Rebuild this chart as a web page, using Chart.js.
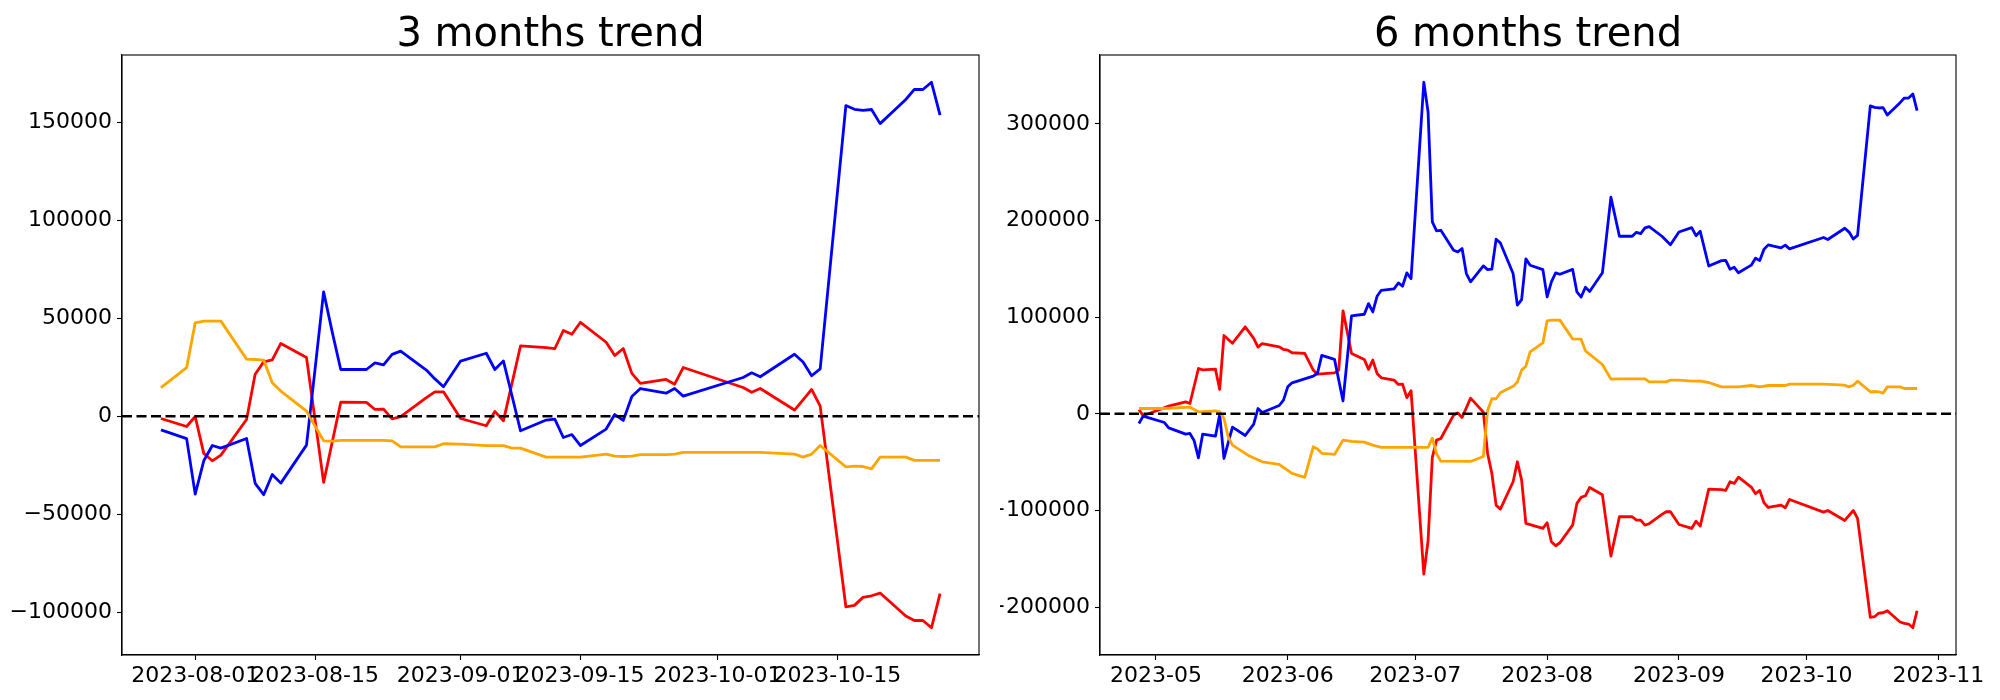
<!DOCTYPE html>
<html>
<head>
<meta charset="utf-8">
<script src="https://cdn.jsdelivr.net/npm/chart.js@4.4.0/dist/chart.umd.min.js"></script>
<style>
  html, body { margin: 0; padding: 0; background: #fff; }
  #wrap { position: relative; width: 2000px; height: 700px; }
  .box { position: absolute; top: 0; width: 1000px; height: 700px; }
</style>
</head>
<body>
<div id="wrap">
  <div class="box" style="left:0"><canvas id="chart3" width="1000" height="700"></canvas></div>
  <div class="box" style="left:1000px"><canvas id="chart6" width="1000" height="700"></canvas></div>
</div>
<script>
// ---- 3 months trend ----
const dates3 = [
  '2023-07-28', '2023-07-31',
  '2023-08-01', '2023-08-02', '2023-08-03', '2023-08-04',
  '2023-08-07', '2023-08-08', '2023-08-09', '2023-08-10', '2023-08-11',
  '2023-08-14', '2023-08-15', '2023-08-16', '2023-08-17', '2023-08-18',
  '2023-08-21', '2023-08-22', '2023-08-23', '2023-08-24', '2023-08-25',
  '2023-08-28', '2023-08-29', '2023-08-30', '2023-09-01',
  '2023-09-04', '2023-09-05', '2023-09-06', '2023-09-07', '2023-09-08',
  '2023-09-11', '2023-09-12', '2023-09-13', '2023-09-14', '2023-09-15',
  '2023-09-18', '2023-09-19', '2023-09-20', '2023-09-21', '2023-09-22',
  '2023-09-25', '2023-09-26', '2023-09-27', '2023-10-04', '2023-10-05', '2023-10-06',
  '2023-10-10', '2023-10-11', '2023-10-12', '2023-10-13',
  '2023-10-16', '2023-10-17', '2023-10-18', '2023-10-19', '2023-10-20',
  '2023-10-23', '2023-10-24', '2023-10-25', '2023-10-26', '2023-10-27'
];
const blue3 = [
  -7000, -11500,
  -39800, -22800, -15000, -16300,
  -11400, -34300, -40100, -29800, -34200,
  -14800, 24000, 63400, 43000, 23800,
  23800, 27200, 26200, 31500, 33200,
  23500, 19000, 15000, 28100,
  32100, 23800, 28200, 10400, -7500,
  -2000, -1500, -10900, -9400, -15000,
  -6600, 800, -2200, 10000, 14100,
  11700, 14100, 10200, 19700, 22100, 20100,
  31600, 27600, 20600, 24100,
  158500, 156600, 156100, 156500, 149300,
  161600, 166800, 166700, 170400, 153600
];
const red3 = [
  -1200, -5300,
  -200, -19000, -22800, -19900,
  -1700, 21400, 27700, 28700, 37100,
  29900, -2000, -33800, -13300, 7100,
  7000, 3400, 3600, -1400, -300,
  9400, 12400, 12400, -1200,
  -4900, 2400, -2400, 16700, 35900,
  35000, 34400, 43700, 41800, 47900,
  37700, 30900, 34500, 21800, 16700,
  18700, 16300, 24800, 14600, 12200, 14100,
  3100, 8300, 13600, 5100,
  -97300, -96600, -92500, -91700, -90300,
  -102000, -104300, -104300, -108000, -90600
];
const orange3 = [
  14600, 24800,
  47600, 48500, 48500, 48500,
  29100, 28900, 28600, 17000, 12800,
  2600, -5100, -12600, -12800, -12400,
  -12400, -12400, -12400, -12600, -15700,
  -15700, -15700, -14100, -14300,
  -15100, -15100, -15100, -16300, -16300,
  -20900, -20900, -20900, -20900, -20900,
  -19400, -20400, -20600, -20400, -19600,
  -19600, -19400, -18500, -18500, -18500, -18500,
  -19400, -20900, -19400, -15000,
  -25900, -25500, -25700, -26900, -20900,
  -20900, -22600, -22600, -22600, -22600
];
const xTicks3 = ['2023-08-01', '2023-08-15', '2023-09-01', '2023-09-15', '2023-10-01', '2023-10-15'];
const yTicks3 = [-100000, -50000, 0, 50000, 100000, 150000];

// ---- 6 months trend ----
const blueDates6 = [
  '2023-04-27', '2023-04-28',
  '2023-05-03', '2023-05-04', '2023-05-08', '2023-05-09', '2023-05-10', '2023-05-11', '2023-05-12', '2023-05-15', '2023-05-16', '2023-05-17', '2023-05-19', '2023-05-22', '2023-05-24', '2023-05-25', '2023-05-26', '2023-05-30', '2023-05-31',
  '2023-06-01', '2023-06-02', '2023-06-07', '2023-06-08', '2023-06-09', '2023-06-12', '2023-06-14', '2023-06-16', '2023-06-19', '2023-06-20', '2023-06-21', '2023-06-22', '2023-06-23', '2023-06-26', '2023-06-27', '2023-06-28', '2023-06-29', '2023-06-30',
  '2023-07-03', '2023-07-04', '2023-07-05', '2023-07-06', '2023-07-07', '2023-07-10', '2023-07-11', '2023-07-12', '2023-07-13', '2023-07-14', '2023-07-17', '2023-07-18', '2023-07-19', '2023-07-20', '2023-07-21', '2023-07-24', '2023-07-25', '2023-07-26', '2023-07-27', '2023-07-28', '2023-07-31',
  '2023-08-01', '2023-08-02', '2023-08-03', '2023-08-04', '2023-08-07', '2023-08-08', '2023-08-09', '2023-08-10', '2023-08-11', '2023-08-14', '2023-08-16', '2023-08-18', '2023-08-21', '2023-08-22', '2023-08-23', '2023-08-24', '2023-08-25', '2023-08-28', '2023-08-30',
  '2023-09-01', '2023-09-04', '2023-09-05', '2023-09-06', '2023-09-08', '2023-09-11', '2023-09-12', '2023-09-13', '2023-09-14', '2023-09-15', '2023-09-18', '2023-09-19', '2023-09-20', '2023-09-21', '2023-09-22', '2023-09-25', '2023-09-26', '2023-09-27',
  '2023-10-05', '2023-10-06', '2023-10-10', '2023-10-11', '2023-10-12', '2023-10-13', '2023-10-16', '2023-10-17', '2023-10-18', '2023-10-19', '2023-10-20', '2023-10-23', '2023-10-24', '2023-10-25', '2023-10-26', '2023-10-27'
];
const blue6 = [
  -10000, -2400,
  -9000, -14500, -21000, -20300, -27900, -45500, -21000, -23100, -700, -46200, -13800, -22400, -10700, 5500, 1400, 8600, 14200,
  27900, 32100, 39000, 42000, 60500, 56300, 13300, 101300, 103000, 114000, 105400, 121600, 127800, 129200, 135400, 132000, 145800, 139900,
  343000, 312300, 198600, 189200, 189900, 169200, 167500, 171000, 145100, 136500, 153000, 149200, 149600, 180600, 176800, 145100, 112400, 118200, 160300, 153700, 149200,
  121000, 136500, 145800, 144400, 149400, 126100, 120800, 131000, 126600, 145900, 224100, 183700, 183700, 187800, 186500, 192300, 193700, 183700, 175000,
  188100, 192600, 184300, 188800, 152900, 158500, 158800, 149600, 151600, 145900, 153800, 161000, 158600, 170300, 174800, 171700, 174500, 170700,
  182400, 180300, 192000, 188000, 180800, 184600, 318500, 317100, 316400, 316800, 309200, 321900, 326700, 326700, 330900, 313600
];
const redDates6 = [
  '2023-04-27', '2023-04-28',
  '2023-05-04', '2023-05-08', '2023-05-09', '2023-05-11', '2023-05-12', '2023-05-15', '2023-05-16', '2023-05-17', '2023-05-19', '2023-05-22', '2023-05-24', '2023-05-25', '2023-05-26', '2023-05-30', '2023-05-31',
  '2023-06-01', '2023-06-02', '2023-06-05', '2023-06-07', '2023-06-08', '2023-06-12', '2023-06-13', '2023-06-14', '2023-06-16', '2023-06-19', '2023-06-20', '2023-06-21', '2023-06-22', '2023-06-23', '2023-06-26', '2023-06-27', '2023-06-28', '2023-06-29', '2023-06-30',
  '2023-07-03', '2023-07-04', '2023-07-05', '2023-07-06', '2023-07-07', '2023-07-10', '2023-07-11', '2023-07-12', '2023-07-14', '2023-07-17', '2023-07-18', '2023-07-19', '2023-07-20', '2023-07-21', '2023-07-24', '2023-07-25', '2023-07-26', '2023-07-27', '2023-07-31',
  '2023-08-01', '2023-08-02', '2023-08-03', '2023-08-04', '2023-08-07', '2023-08-08', '2023-08-09', '2023-08-10', '2023-08-11', '2023-08-14', '2023-08-16', '2023-08-18', '2023-08-21', '2023-08-22', '2023-08-23', '2023-08-24', '2023-08-25', '2023-08-28', '2023-08-29', '2023-08-30',
  '2023-09-01', '2023-09-04', '2023-09-05', '2023-09-06', '2023-09-08', '2023-09-11', '2023-09-12', '2023-09-13', '2023-09-14', '2023-09-15', '2023-09-18', '2023-09-19', '2023-09-20', '2023-09-21', '2023-09-22', '2023-09-25', '2023-09-26', '2023-09-27',
  '2023-10-05', '2023-10-06', '2023-10-10', '2023-10-12', '2023-10-13', '2023-10-16', '2023-10-17', '2023-10-18', '2023-10-19', '2023-10-20', '2023-10-23', '2023-10-24', '2023-10-25', '2023-10-26', '2023-10-27'
];
const red6 = [
  4500, -2000,
  8000, 12400, 10700, 46900, 45500, 46200, 25200, 81000, 73000, 90000, 78000, 69000, 72700, 69300, 66600,
  65900, 63200, 62500, 45200, 41000, 42400, 45200, 106500, 62400, 56300, 46000, 55600, 41800, 37300, 34900, 30400, 30800, 16700, 23900,
  -165800, -131300, -45000, -27200, -25500, -1400, 1000, -3800, 16200, 1700, -41000, -61700, -94500, -98600, -70300, -49600, -68600, -113400, -118500,
  -112700, -132400, -136500, -133400, -115100, -92700, -86500, -84800, -76200, -83800, -147200, -106500, -106500, -110000, -110000, -115100, -113700, -104000, -101300, -101300,
  -114500, -118600, -111000, -116200, -77900, -78500, -79300, -70300, -72000, -65500, -75800, -82700, -79300, -92000, -96900, -94500, -97200, -88600,
  -101700, -100000, -110300, -100000, -108200, -210600, -209900, -206100, -205800, -203700, -215400, -216800, -217500, -221300, -203700
];
const orangeDates6 = [
  '2023-04-27',
  '2023-05-03', '2023-05-09', '2023-05-11', '2023-05-15', '2023-05-16', '2023-05-17', '2023-05-18', '2023-05-19', '2023-05-23', '2023-05-26', '2023-05-30',
  '2023-06-02', '2023-06-05', '2023-06-07', '2023-06-08', '2023-06-09', '2023-06-12', '2023-06-14', '2023-06-16', '2023-06-19', '2023-06-21', '2023-06-23',
  '2023-07-03', '2023-07-04', '2023-07-05', '2023-07-06', '2023-07-07', '2023-07-14', '2023-07-17', '2023-07-18', '2023-07-19', '2023-07-20', '2023-07-21', '2023-07-24', '2023-07-25', '2023-07-26', '2023-07-27', '2023-07-28', '2023-07-31',
  '2023-08-01', '2023-08-02', '2023-08-04', '2023-08-07', '2023-08-09', '2023-08-10', '2023-08-14', '2023-08-16', '2023-08-18', '2023-08-24', '2023-08-25', '2023-08-29', '2023-08-30',
  '2023-09-01', '2023-09-04', '2023-09-06', '2023-09-08', '2023-09-11', '2023-09-15', '2023-09-18', '2023-09-20', '2023-09-22', '2023-09-26', '2023-09-27',
  '2023-10-05', '2023-10-10', '2023-10-11', '2023-10-12', '2023-10-13', '2023-10-16', '2023-10-17', '2023-10-18', '2023-10-19', '2023-10-20', '2023-10-23', '2023-10-24', '2023-10-27'
];
const orange6 = [
  5500,
  5500, 6900, 2100, 3100, 2100, -4800, -23800, -32400, -43700, -49600, -52300,
  -61700, -65800, -34100, -36500, -40900, -42000, -27200, -28600, -29300, -32400, -34800,
  -34800, -34800, -25200, -41400, -49000, -49300, -44100, 3500, 15600, 15600, 21800, 28400, 32800, 45200, 49300, 64100, 73400,
  96200, 96900, 96900, 77500, 77200, 65100, 51000, 35900, 36200, 36200, 33100, 33100, 34800,
  34800, 33800, 33800, 32400, 27900, 27900, 29300, 27900, 29300, 29300, 30700,
  30700, 29600, 27900, 29600, 33800, 22800, 23100, 22800, 21400, 27900, 27900, 26200, 26200
];
const xTicks6 = ['2023-05-01', '2023-06-01', '2023-07-01', '2023-08-01', '2023-09-01', '2023-10-01', '2023-11-01'];
const yTicks6 = [-200000, -100000, 0, 100000, 200000, 300000];

const DAY = 86400000;
const FONT = 'DejaVu Sans';
const toDay = s => Date.parse(s) / DAY;
const points = (dates, values) => dates.map((d, i) => ({ x: toDay(d), y: values[i] }));
const numLabel = v => (v < 0 ? '\u2212' : '') + Math.abs(v);

// matplotlib style 5% margins
function limits(arr) {
  const lo = Math.min(...arr), hi = Math.max(...arr);
  const m = (hi - lo) * 0.05;
  return [lo - m, hi + m];
}

// dashed zero line + box around the axes
const frame = {
  id: 'frame',
  afterDatasetsDraw(chart) {
    const { ctx, chartArea: a } = chart;
    const y0 = chart.scales.y.getPixelForValue(0);
    ctx.save();
    ctx.strokeStyle = '#000';
    ctx.lineWidth = 2.5;
    ctx.setLineDash([10, 4.5]);
    ctx.beginPath();
    ctx.moveTo(a.left, y0);
    ctx.lineTo(a.right, y0);
    ctx.stroke();
    ctx.setLineDash([]);
    ctx.lineWidth = 1.1;
    ctx.strokeRect(a.left, a.top, a.right - a.left, a.bottom - a.top);
    ctx.restore();
  }
};

function makeChart(id, title, series, xTicks, xLabel, yTicks, axisW, padRight) {
  const xs = series.flatMap(s => s.data.map(p => p.x));
  const ys = series.flatMap(s => s.data.map(p => p.y));
  const [x0, x1] = limits(xs);
  const [y0, y1] = limits(ys);
  const tickFont = { family: FONT, size: 22 };
  return new Chart(document.getElementById(id), {
    type: 'line',
    data: {
      datasets: series.map(s => ({
        data: s.data,
        borderColor: s.color,
        borderWidth: 2.8,
        pointRadius: 0,
        tension: 0,
        fill: false,
        borderJoinStyle: 'round',
        order: s.order
      }))
    },
    options: {
      responsive: false,
      animation: false,
      events: [],
      layout: { padding: { left: 0, right: padRight, top: 0, bottom: 0 } },
      plugins: {
        legend: { display: false },
        tooltip: { enabled: false },
        title: {
          display: true,
          text: title,
          fullSize: false,
          color: '#000',
          font: { family: FONT, size: 40, weight: 'normal', lineHeight: 0.9 },
          padding: { top: 18, bottom: 1 }
        }
      },
      scales: {
        x: {
          type: 'linear',
          min: x0,
          max: x1,
          afterBuildTicks: s => { s.ticks = xTicks.map(d => ({ value: toDay(d) })); },
          afterFit: s => { s.height = 45; },
          ticks: {
            callback: (v, i) => xLabel(xTicks[i]),
            color: '#000',
            font: tickFont,
            maxRotation: 0,
            minRotation: 0,
            autoSkip: false,
            padding: 3
          },
          grid: { drawOnChartArea: false, tickLength: 5, tickColor: '#000', tickWidth: 1.1 },
          border: { display: true, color: '#000', width: 1.1 }
        },
        y: {
          type: 'linear',
          min: y0,
          max: y1,
          afterBuildTicks: s => { s.ticks = yTicks.map(v => ({ value: v })); },
          afterFit: s => { s.width = axisW; },
          ticks: { callback: v => numLabel(v), color: '#000', font: tickFont, padding: 5 },
          grid: { drawOnChartArea: false, tickLength: 5, tickColor: '#000', tickWidth: 1.1 },
          border: { display: true, color: '#000', width: 1.1 }
        }
      }
    },
    plugins: [frame]
  });
}

makeChart('chart3', '3 months trend', [
  { data: points(dates3, blue3), color: '#0000ff', order: 1 },
  { data: points(dates3, red3), color: '#ff0000', order: 2 },
  { data: points(dates3, orange3), color: '#ffa500', order: 0 }
], xTicks3, d => d, yTicks3, 122, 21);

makeChart('chart6', '6 months trend', [
  { data: points(blueDates6, blue6), color: '#0000ff', order: 1 },
  { data: points(redDates6, red6), color: '#ff0000', order: 2 },
  { data: points(orangeDates6, orange6), color: '#ffa500', order: 0 }
], xTicks6, d => d.slice(0, 7), yTicks6, 100, 44);
</script>
</body>
</html>
